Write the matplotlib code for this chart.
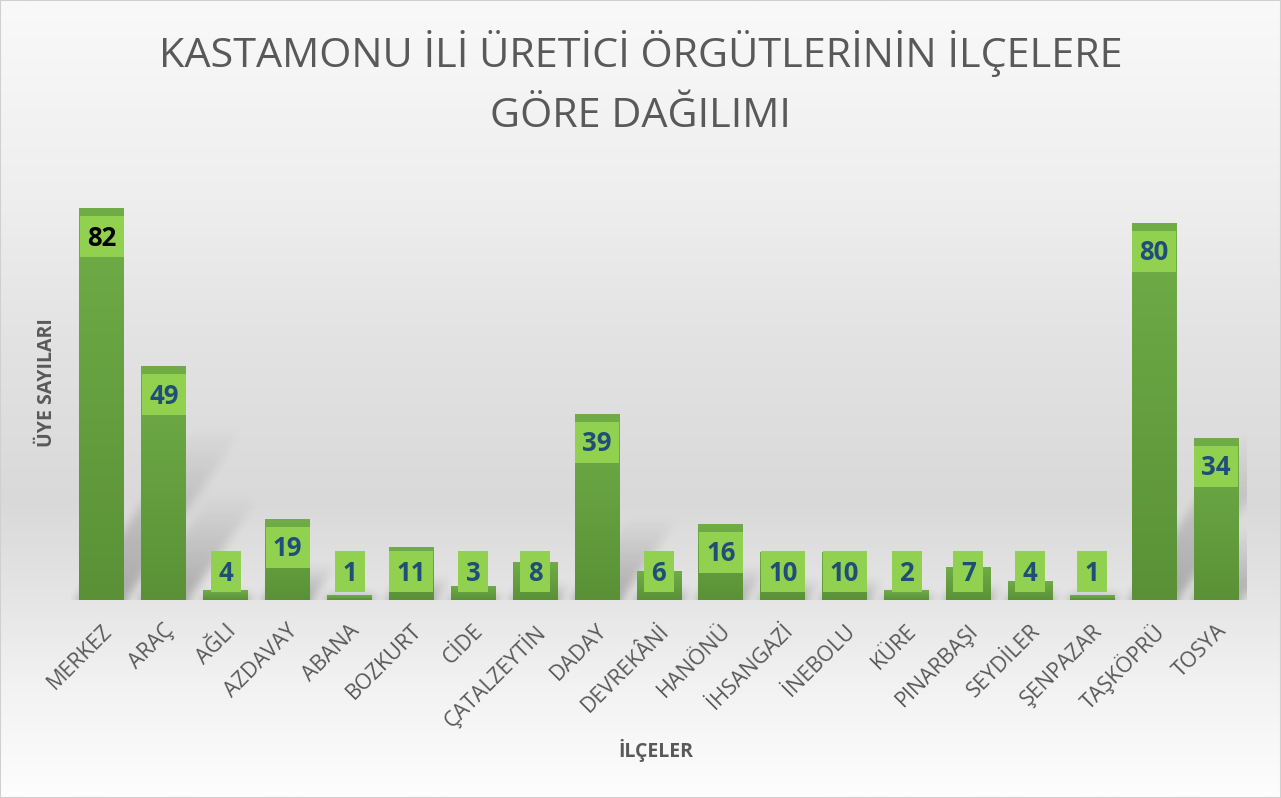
import matplotlib
matplotlib.use("Agg")
import matplotlib.pyplot as plt
import matplotlib.transforms as mtransforms
from matplotlib.colors import LinearSegmentedColormap, to_rgb
from matplotlib.patches import Rectangle
import numpy as np

plt.rcParams['font.family'] = ['Open Sans', 'DejaVu Sans']

# ---- data ----
ilceler = ['MERKEZ', 'ARAÇ', 'AĞLI', 'AZDAVAY', 'ABANA', 'BOZKURT', 'CİDE',
           'ÇATALZEYTİN', 'DADAY', 'DEVREKÂNİ', 'HANÖNÜ', 'İHSANGAZİ',
           'İNEBOLU', 'KÜRE', 'PINARBAŞI', 'SEYDİLER', 'ŞENPAZAR',
           'TAŞKÖPRÜ', 'TOSYA']
uye_etiket = [82, 49, 4, 19, 1, 11, 3, 8, 39, 6, 16, 10, 10, 2, 7, 4, 1, 80, 34]
# bar heights as drawn in the picture (a few differ from their labels)
uye_bar = [82, 49, 2, 17, 1, 11, 3, 8, 39, 6, 16, 10, 10, 2, 7, 4, 1, 79, 34]

title1 = 'KASTAMONU İLİ ÜRETİCİ ÖRGÜTLERİNİN İLÇELERE'
title2 = 'GÖRE DAĞILIMI'

W, H = 1281, 798
fig = plt.figure(figsize=(W / 100, H / 100), dpi=100)

# ---- background gradient ----
bg = fig.add_axes([0, 0, 1, 1], zorder=-10)
stops = [(0.0, '#f9f9f9'), (0.25, '#eeeeee'), (0.42, '#e3e3e3'), (0.63, '#d9d9d9'),
         (0.75, '#e5e5e5'), (0.86, '#f2f2f2'), (1.0, '#fdfdfd')]
bgmap = LinearSegmentedColormap.from_list('bg', [(p, to_rgb(c)) for p, c in stops])
bg.imshow(np.linspace(0, 1, 400).reshape(-1, 1), cmap=bgmap, aspect='auto',
          extent=[0, 1, 0, 1], origin='upper', vmin=0, vmax=1)
bg.set_xlim(0, 1); bg.set_ylim(0, 1)
bg.axis('off')

# ---- main axes ----
ax_l, ax_b, ax_w, ax_h = 71, 600, 1176, 430   # pixels (left, baseline, width, height)
ax = fig.add_axes([ax_l / W, (H - ax_b) / H, ax_w / W, ax_h / H])
ax.patch.set_alpha(0)
ymax = 90
n = len(ilceler)
x = np.arange(n)
bw = 0.727

pxx = ax_w / n        # pixels per x unit
pxy = ax_h / ymax     # pixels per y unit

# ---- perspective shadows (rough) ----
sw, sh = ax_w, ax_h
xx, yy = np.meshgrid(np.arange(sw) + 0.5, np.arange(sh) + 0.5)
shade = np.zeros((sh, sw))
k = 0.68
for i, v in enumerate(uye_bar):
    x0 = (i - bw / 2 + 0.5) * pxx
    x1 = (i + bw / 2 + 0.5) * pxx
    hs = max(0.45 * v * pxy, 8)
    m = (yy < hs) & (xx >= x0 + k * yy - 3) & (xx <= x1 + k * yy + 2)
    val = np.where(m, 1 - yy / hs, 0)
    shade = np.maximum(shade, val)

def box_blur(a, r, axis):
    c = np.cumsum(np.pad(a, [(r + 1, r) if ax_ == axis else (0, 0) for ax_ in range(2)],
                         mode='edge'), axis=axis)
    if axis == 0:
        return (c[2 * r + 1:] - c[:-2 * r - 1]) / (2 * r + 1)
    return (c[:, 2 * r + 1:] - c[:, :-2 * r - 1]) / (2 * r + 1)

for _ in range(3):
    shade = box_blur(shade, 4, 0)
    shade = box_blur(shade, 4, 1)
rgba = np.zeros((sh, sw, 4))
rgba[..., 3] = 0.26 * shade
ax.imshow(rgba, extent=[-0.5, n - 0.5, 0, ymax], origin='lower', aspect='auto', zorder=0.5)

# ---- bars with vertical gradient ----
bars = ax.bar(x, uye_bar, width=bw, color='#66a242', zorder=1)
greens = LinearSegmentedColormap.from_list('g', ['#5a9137', '#70ad47'])
grad = np.linspace(0, 1, 256).reshape(-1, 1)
for b, v in zip(bars, uye_bar):
    im = ax.imshow(grad, cmap=greens, aspect='auto', origin='lower', zorder=1.5,
                   extent=[b.get_x(), b.get_x() + b.get_width(), 0, v])
    im.set_clip_path(b)

# ---- data label boxes ----
box_h = 41 / pxy
box_top_min = 49 / pxy
lab_fs = 18.5
cap = lab_fs * 100 / 72 * 0.714 / pxy
for i, (v, t) in enumerate(zip(uye_bar, uye_etiket)):
    top = max(v - 8 / pxy, box_top_min)
    bwid = (44 if t >= 10 else 30) / pxx
    ax.add_patch(Rectangle((i - bwid / 2, top - box_h), bwid, box_h,
                           facecolor='#92d050', edgecolor='none', zorder=2))
    ax.text(i, top - box_h / 2 - cap / 2, str(t), ha='center', va='baseline',
            fontsize=lab_fs, fontweight='bold',
            color='black' if i == 0 else '#1f4e79', zorder=3)

ax.set_xlim(-0.5, n - 0.5)
ax.set_ylim(0, ymax)
ax.set_yticks([])
for s in ax.spines.values():
    s.set_visible(False)
ax.set_xticks(x)
ax.set_xticklabels(ilceler, rotation=45, ha='right', va='center',
                   rotation_mode='anchor', fontsize=15.5, color='#595959')
ax.tick_params(axis='x', length=0, pad=20)
off = mtransforms.ScaledTranslation(0.07, 0, fig.dpi_scale_trans)
for lab in ax.get_xticklabels():
    lab.set_transform(lab.get_transform() + off)

# ---- titles ----
fig.text(640.5 / W, 1 - 67 / H, title1, ha='center', va='baseline',
         fontsize=29.8, color='#595959')
fig.text(640.5 / W, 1 - 127 / H, title2, ha='center', va='baseline',
         fontsize=29.8, color='#595959')
fig.text(656 / W, 1 - 757 / H, 'İLÇELER', ha='center', va='baseline',
         fontsize=14, fontweight='bold', color='#595959')
fig.text(47 / W, 1 - 383 / H, 'ÜYE SAYILARI', ha='center', va='center',
         rotation=90, fontsize=14, fontweight='bold', color='#595959')

fig.patches.append(Rectangle((0, 0), 1, 1, transform=fig.transFigure, fill=False,
                             edgecolor='#d0d0d0', lw=1.5, zorder=20))

fig.savefig('out.png', dpi=100)
